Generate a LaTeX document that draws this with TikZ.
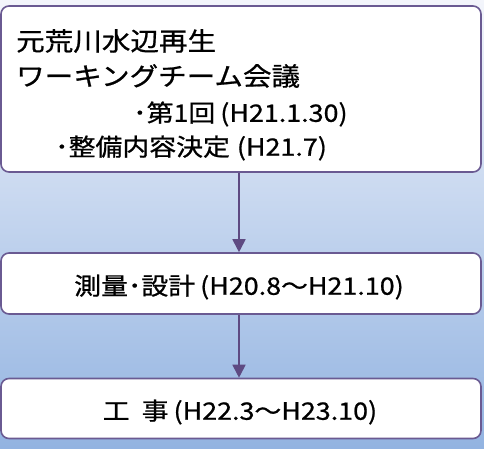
\documentclass[tikz,border=0pt]{standalone}
\usepackage{fontspec}
\newfontfamily\jp[FakeStretch=1.12,FakeBold=0.8]{Noto Sans CJK JP}
\usetikzlibrary{arrows.meta}
\definecolor{bgtop}{HTML}{F3F5FB}
\definecolor{bgbot}{HTML}{92B3E1}
\definecolor{boxline}{HTML}{6A5A92}
\definecolor{arrowc}{HTML}{5E4A82}
\tikzset{
  box/.style={draw=boxline, line width=1.6pt, fill=white, rounded corners=8pt, inner sep=0pt},
  txt/.style={font=\jp\fontsize{25.5}{25.5}\selectfont, inner sep=0pt, text=black},
  stxt/.style={font=\jp\fontsize{24}{24}\selectfont, inner sep=0pt, text=black},
  flow/.style={draw=arrowc, line width=1.8pt, -{Triangle[width=13pt,length=13pt]}}
}
\begin{document}
\begin{tikzpicture}[x=1pt,y=-1pt]
\useasboundingbox (0,0) rectangle (484,448);
\shade[top color=bgtop, bottom color=bgbot] (0,0) rectangle (484,448);
\node[box, minimum width=480pt, minimum height=166pt] (b1) at (241,89) {};
\node[box, minimum width=480pt, minimum height=61pt] (b2) at (241,283.5) {};
\node[box, minimum width=480pt, minimum height=60pt] (b3) at (241,408.5) {};
\node[txt, anchor=west] (l1) at (16,41) {元荒川水辺再生};
\node[txt, anchor=west] (l2) at (16,76) {ワーキングチーム会議};
\node[stxt, anchor=west] (l3) at (133,114) {･第1回\hspace{5pt}(H21.1.30)};
\node[stxt, anchor=west] (l4) at (55,148) {･整備内容決定\hspace{7pt}(H21.7)};
\node[stxt] (t2) at (239,287) {測量･設計\hspace{5pt}(H20.8〜H21.10)};
\node[stxt] (t3) at (240,412) {工\hspace{12pt}事\hspace{5pt}(H22.3〜H23.10)};
\draw[flow] (b1.south -| 239,0) -- (b2.north -| 239,0);
\draw[flow] (b2.south -| 239,0) -- (b3.north -| 239,0);
\end{tikzpicture}
\end{document}
